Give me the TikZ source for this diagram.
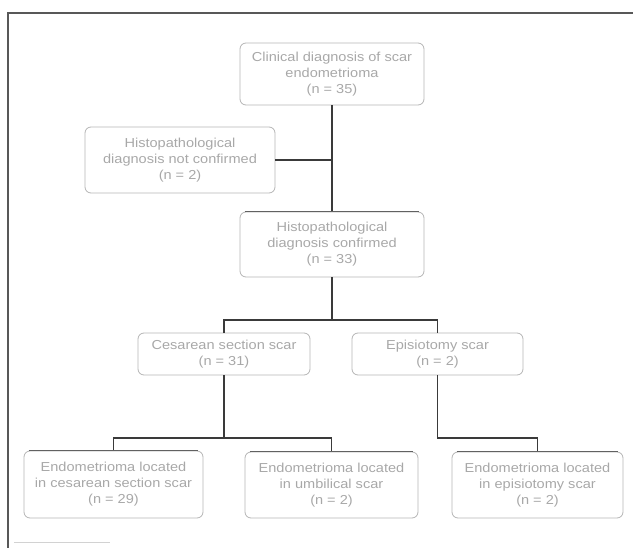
\documentclass[tikz,border=0pt]{standalone}
\usepackage{fontspec}
\setmainfont{Liberation Sans}[FakeStretch=1.12]
\usepackage{tikz}

\definecolor{fadedtext}{HTML}{A8A8A8}
\definecolor{boxline}{HTML}{B4B4B4}
\definecolor{linkline}{HTML}{3A3A3A}

\begin{document}
\begin{tikzpicture}
            [x=1pt, y=-1pt, semithick,
             box/.style={shape=rectangle, rounded corners=6pt, draw=boxline, thick,
                         align=center, text=fadedtext, inner sep=2pt,
                         font=\fontsize{13}{16}\selectfont},
             link/.style={draw=linkline, line width=1.3pt},
             topedge/.style={draw=linkline!80, line width=1.3pt}]
            \useasboundingbox (0, 0) rectangle (633, 548);

            % outer frame
            \draw[draw=linkline!85, line width=1.3pt] (633, 13) -- (8, 13) -- (8, 548);
            \draw[draw=boxline!60, line width=1pt] (14, 543) -- (110, 543);

            \node[box, minimum width=184pt, minimum height=62pt] (clinical) at (332, 74)
                {Clinical diagnosis of scar\\endometrioma\\(n = 35)};
            \node[box, minimum width=190pt, minimum height=66pt] (notconf) at (180, 160)
                {Histopathological\\diagnosis not confirmed\\(n = 2)};
            \node[box, minimum width=184pt, minimum height=65pt] (confirmed) at (332, 244.5)
                {Histopathological\\diagnosis confirmed\\(n = 33)};
            \node[box, minimum width=172pt, minimum height=42pt] (cesarean) at (224, 354)
                {Cesarean section scar\\(n = 31)};
            \node[box, minimum width=171pt, minimum height=42pt] (episiotomy) at (437.5, 354)
                {Episiotomy scar\\(n = 2)};
            \node[box, minimum width=179pt, minimum height=67pt] (inces) at (113.5, 484.5)
                {Endometrioma located\\in cesarean section scar\\(n = 29)};
            \node[box, minimum width=173pt, minimum height=66pt] (inumb) at (331.5, 485)
                {Endometrioma located\\in umbilical scar\\(n = 2)};
            \node[box, minimum width=171pt, minimum height=66pt] (inepi) at (537.5, 485)
                {Endometrioma located\\in episiotomy scar\\(n = 2)};

            \coordinate (split1) at (332, 320);
            \coordinate (split2) at (224, 438);
            \coordinate (split3) at (437.5, 438);

            \draw[link] (clinical.south) -- (confirmed.north);
            \draw[link] (notconf.east) -- (notconf.east -| clinical.south);
            \draw[link] (confirmed.south) -- (split1);
            \draw[link] (cesarean.north) |- (split1) -| (episiotomy.north);
            \draw[link] (cesarean.south) -- (split2);
            \draw[link] (inces.north) |- (split2) -| (inumb.north);
            \draw[link] (episiotomy.south) -- (split3) -| (inepi.north);

            \draw[topedge] ([xshift=5pt]confirmed.north west) -- ([xshift=-5pt]confirmed.north east);
            \draw[topedge] ([xshift=5pt]inces.north west) -- ([xshift=-5pt]inces.north east);
            \draw[topedge] ([xshift=5pt]inumb.north west) -- ([xshift=-5pt]inumb.north east);
            \draw[topedge] ([xshift=5pt]inepi.north west) -- ([xshift=-5pt]inepi.north east);
        \end{tikzpicture}
\end{document}
